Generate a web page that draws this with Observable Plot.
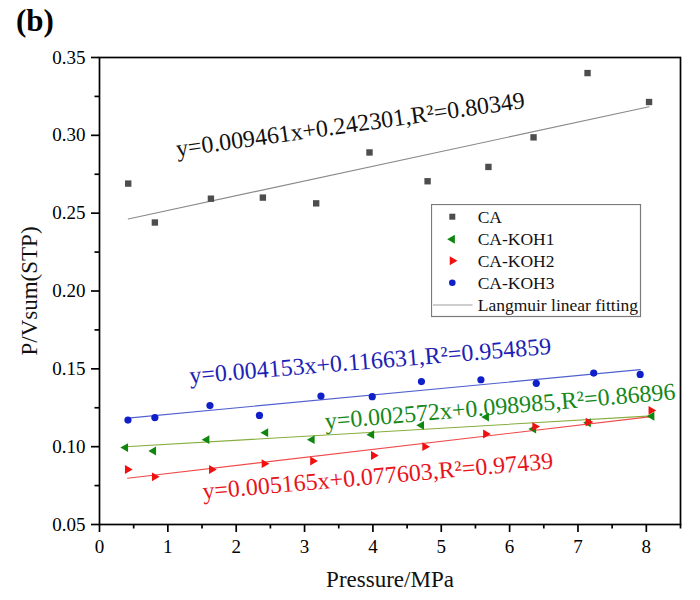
<!DOCTYPE html>
<html><head><meta charset="utf-8">
<script src="https://cdn.jsdelivr.net/npm/d3@7"></script>
<script src="https://cdn.jsdelivr.net/npm/@observablehq/plot@0.6"></script>
<style>
body{margin:0;background:#fff;}
#wrap{position:relative;width:700px;height:600px;font-family:"Liberation Serif","Times New Roman",serif;}
#wrap svg, #wrap svg text{font-family:"Liberation Serif","Times New Roman",serif !important;}
#tag{position:absolute;left:16px;top:5px;font-size:31px;font-weight:bold;line-height:1;color:#000;}
</style></head>
<body><div id="wrap"><div id="tag">(b)</div></div>
<script>
// ---- data ----
const pressureCA   = [0.42,0.81,1.63,2.39,3.17,3.95,4.80,5.69,6.35,7.14,8.04];
const valueCA      = [0.269,0.244,0.2593,0.260,0.2563,0.289,0.2705,0.2797,0.2987,0.340,0.3214];
const pressureKOH1 = [0.38,0.79,1.57,2.43,3.11,3.98,4.71,5.66,6.35,7.15,8.08];
const valueKOH1    = [0.0994,0.0972,0.1045,0.1090,0.1045,0.1077,0.1137,0.1190,0.1113,0.1154,0.1195];
const pressureKOH2 = [0.41,0.805,1.64,2.41,3.12,4.01,4.76,5.65,6.37,7.15,8.07];
const valueKOH2    = [0.0853,0.0806,0.0853,0.0891,0.0908,0.0943,0.1000,0.1081,0.1129,0.1158,0.1233];
const pressureKOH3 = [0.416,0.81,1.616,2.34,3.24,3.99,4.71,5.58,6.39,7.23,7.91];
const valueKOH3    = [0.1171,0.1187,0.1264,0.1201,0.1325,0.1321,0.1418,0.1430,0.1407,0.1473,0.1464];

const seriesNames  = ["CA","CA-KOH1","CA-KOH2","CA-KOH3"];
const fitSlopes     = [0.009461,0.002572,0.005165,0.004153];
const fitIntercepts = [0.242301,0.098985,0.077603,0.116631];
const fitLabels = ["y=0.009461x+0.242301,R²=0.80349","y=0.002572x+0.098985,R²=0.86896",
                   "y=0.005165x+0.077603,R²=0.97439","y=0.004153x+0.116631,R²=0.954859"];
const labelX = [3.67,5.86,4.07,3.96];
const labelY = [0.3068,0.1258,0.081,0.155];
const labelAngle = [-8,-4.9,-5,-4.7];

const xMajor = [0,1,2,3,4,5,6,7,8];
const xMinor = [0.5,1.5,2.5,3.5,4.5,5.5,6.5,7.5,8.5];
const yMajor = [0.05,0.10,0.15,0.20,0.25,0.30,0.35];
const yMinor = [0.075,0.125,0.175,0.225,0.275,0.325];

// ---- styling ----
const dotColors  = ["#4d4d4d","#0f870f","#f01010","#1020c8"];
const lineColors = ["#8a8a8a","#86ad3c","#f04a4a","#5060d0"];
const textColors = ["#111111","#15881a","#e8141b","#1c22b4"];
const symbols = ["square","triangle","triangle","circle"];
const rotations = [0,-90,90,0];
const radii = [3.6,3.3,3.3,3.6];
const serif = '"Liberation Serif","Times New Roman",serif';

const xs = [pressureCA,pressureKOH1,pressureKOH2,pressureKOH3];
const ys = [valueCA,valueKOH1,valueKOH2,valueKOH3];

const marks = [];
// fit lines
xs.forEach((px,i)=>{
  const x0 = d3.min(px), x1 = d3.max(px);
  const pts = [x0,x1].map(x=>({x, y: fitIntercepts[i] + fitSlopes[i]*x}));
  marks.push(Plot.line(pts,{x:"x",y:"y",stroke:lineColors[i],strokeWidth:1.1}));
});
// points
xs.forEach((px,i)=>{
  const pts = px.map((x,j)=>({x, y: ys[i][j]}));
  marks.push(Plot.dot(pts,{x:"x",y:"y",symbol:symbols[i],r:radii[i],fill:dotColors[i],stroke:"none",rotate:rotations[i]}));
});
// equation labels
fitLabels.forEach((t,i)=>{
  marks.push(Plot.text([t],{x:()=>labelX[i],y:()=>labelY[i],text:d=>d,rotate:labelAngle[i],
    fill:textColors[i],fontSize:24,fontFamily:serif,textAnchor:"middle",lineAnchor:"middle"}));
});

const plot = Plot.plot({
  width:700,height:600,
  marginLeft:99,marginRight:20,marginTop:57,marginBottom:76,
  style:{fontFamily:serif,color:"#000",background:"#fff"},
  x:{domain:[0,8.5]},
  y:{domain:[0.05,0.35]},
  marks:[
    ...marks,
    Plot.frame({stroke:"#000",strokeWidth:1.7}),
    Plot.axisX({ticks:xMajor,tickSize:8,tickPadding:7,fontSize:19,fontFamily:serif,tickFormat:d3.format("d"),label:null,strokeWidth:1.7}),
    Plot.axisX({ticks:xMinor,tickSize:4.5,tickFormat:()=>"",label:null,strokeWidth:1.7}),
    Plot.axisY({ticks:yMajor,tickSize:8,tickPadding:6,fontSize:19,fontFamily:serif,tickFormat:d3.format(".2f"),label:null,strokeWidth:1.7}),
    Plot.axisY({ticks:yMinor,tickSize:4.5,tickFormat:()=>"",label:null,strokeWidth:1.7}),
    Plot.text(["P/Vsum(STP)"],{frameAnchor:"left",dx:-70,rotate:-90,fontSize:23,fontFamily:serif,textAnchor:"middle",lineAnchor:"middle",text:d=>d,fill:"#111"}),
    Plot.text(["Pressure/MPa"],{frameAnchor:"bottom",dy:55,fontSize:23,fontFamily:serif,textAnchor:"middle",lineAnchor:"middle",text:d=>d,fill:"#111"})
  ]
});
plot.style.position="absolute";plot.style.left="0";plot.style.top="0";
const wrap = document.getElementById("wrap");
wrap.insertBefore(plot, wrap.firstChild);

// ---- legend ----
const leg = d3.select(wrap).append("svg")
  .style("position","absolute").style("left","431px").style("top","204px")
  .attr("width",212).attr("height",115);
leg.append("rect").attr("x",0.5).attr("y",0.5).attr("width",209).attr("height",112)
  .attr("fill","#fff").attr("stroke","#7a7a7a").attr("stroke-width",1.2);
const legendLabels = [...seriesNames,"Langmuir linear fitting"];
const rowY = [12.7,35.3,56.7,78.7,101];
const d3Symbols = [d3.symbolSquare,d3.symbolTriangle,d3.symbolTriangle,d3.symbolCircle];
legendLabels.forEach((lab,i)=>{
  if(i<4){
    leg.append("path").attr("d",d3.symbol(d3Symbols[i],i===0?36:34)())
      .attr("transform",`translate(21.3,${rowY[i]}) rotate(${rotations[i]})`)
      .attr("fill",dotColors[i]);
  } else {
    leg.append("line").attr("x1",2).attr("x2",41.5).attr("y1",rowY[i]).attr("y2",rowY[i])
      .attr("stroke","#a0a0a0").attr("stroke-width",1.2);
  }
  leg.append("text").attr("x",46.7).attr("y",rowY[i]).attr("dy","0.35em")
    .attr("font-size",17.5).attr("font-family",serif)
    .attr("fill","#111").text(lab);
});
</script>
</body></html>
